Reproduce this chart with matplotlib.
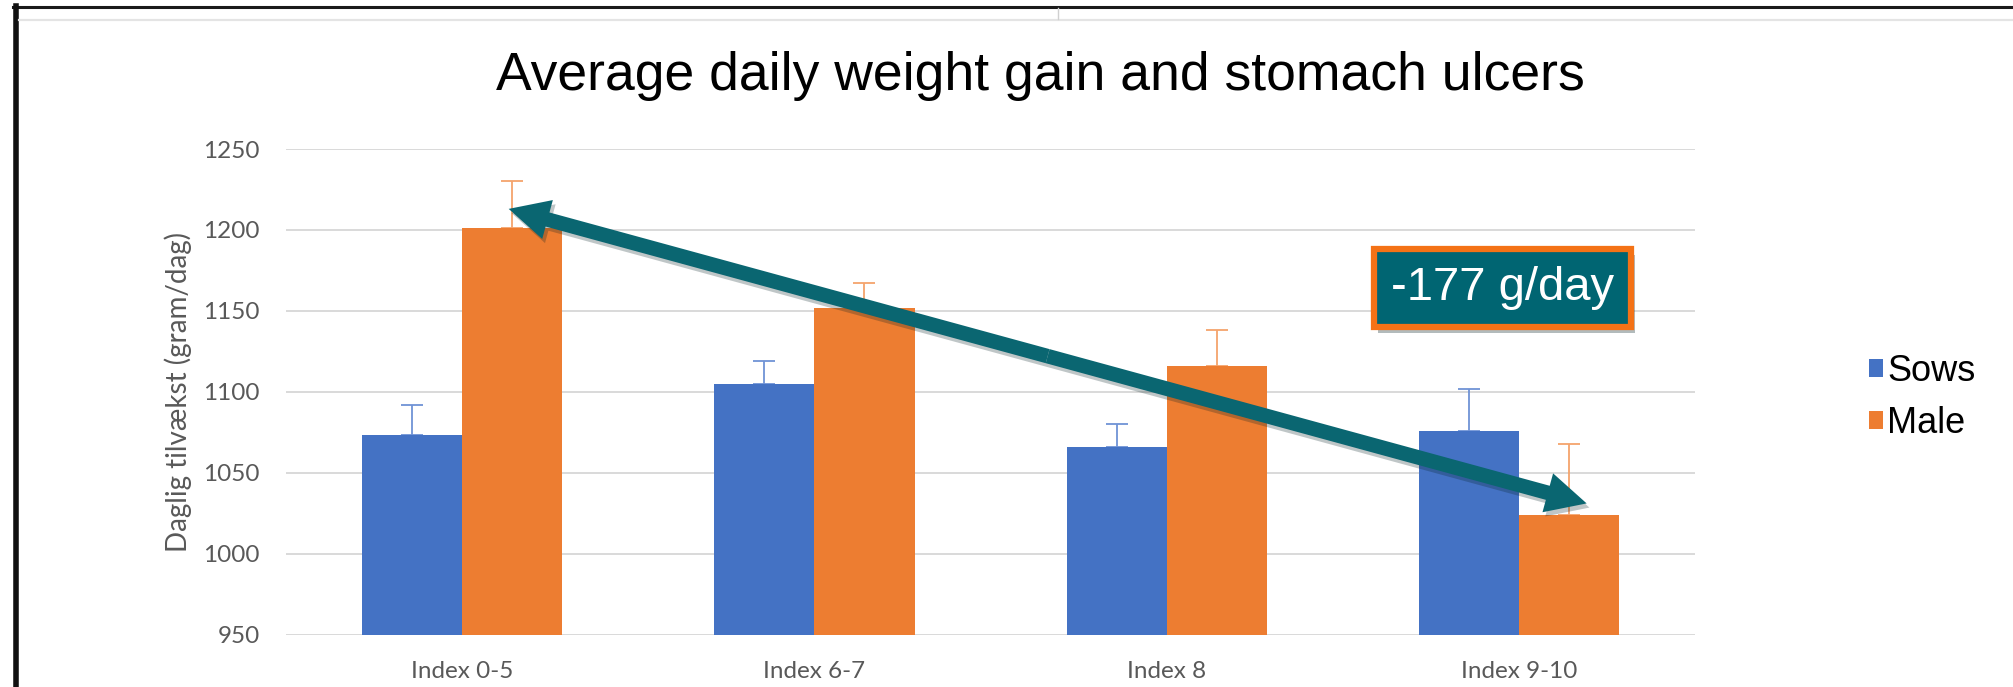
import numpy as np
import matplotlib
matplotlib.use("Agg")
import matplotlib.pyplot as plt
from matplotlib.lines import Line2D
import matplotlib.patheffects as pe

# data
categories = ["Index 0-5", "Index 6-7", "Index 8", "Index 9-10"]
sows = [1073, 1105, 1066, 1076]
sows_err = [19, 14, 14, 26]
male = [1201, 1152, 1116, 1024]
male_err = [29, 15, 22, 44]
series_names = ["Sows", "Male"]
yticks = [950, 1000, 1050, 1100, 1150, 1200, 1250]
title = "Average daily weight gain and stomach ulcers"
ylabel = "Daglig tilvækst (gram/dag)"
callout = "-177 g/day"

blue = "#4472C4"
orange = "#ED7D31"
teal = "#0a6671"

fig = plt.figure(figsize=(20.13, 6.87), dpi=100)
ax = fig.add_axes([0.1421, 0.0764, 0.7, 0.7067])

x = np.arange(len(categories))
w = 0.284
ax.bar(x - w / 2, sows, w, color=blue, zorder=3, label=series_names[0])
ax.bar(x + w / 2, male, w, color=orange, zorder=3, label=series_names[1])
ax.errorbar(x - w / 2, sows, yerr=[np.zeros(4), sows_err], fmt="none",
            ecolor="#6f93d6", elinewidth=1.3, capsize=8, capthick=1.3, zorder=2)
ax.errorbar(x + w / 2, male, yerr=[np.zeros(4), male_err], fmt="none",
            ecolor="#f4a46c", elinewidth=1.3, capsize=8, capthick=1.3, zorder=2)

ax.set_xlim(-0.5, 3.5)
ax.set_ylim(950, 1250)
ax.set_yticks(yticks)
ax.set_xticks(x)
ax.set_xticklabels(categories)
ax.grid(axis="y", color="#d9d9d9", lw=1.4, zorder=0)
ax.set_axisbelow(True)
for s in ax.spines.values():
    s.set_visible(False)
ax.tick_params(length=0, labelsize=17.5, labelcolor="#595959", pad=19)
ax.tick_params(axis="y", pad=19)
for lab in ax.get_xticklabels() + ax.get_yticklabels():
    lab.set_family("Lato")
ax.set_ylabel(ylabel, family="Lato", fontsize=20, color="#595959", labelpad=8)

# double arrow between first and last male bar
start = (x[0] + w / 2 - 0.01, male[0] + 12)
end = (x[3] + w / 2 + 0.05, male[3] + 7)
mid = ((start[0] + end[0]) / 2, (start[1] + end[1]) / 2)
style = "simple,head_length=2.9,head_width=2.9,tail_width=1.05"
for tip in (start, end):
    a = ax.annotate("", xy=tip, xytext=mid, zorder=5,
                    arrowprops=dict(arrowstyle=style, mutation_scale=10,
                                    color=teal, lw=0, shrinkA=0, shrinkB=0))
    a.arrow_patch.set_path_effects([pe.SimplePatchShadow(offset=(2, -3), alpha=0.25),
                                    pe.Normal()])

t = ax.text(2.953, 1164, callout, ha="center", va="center", fontsize=34,
            family="Liberation Sans", color="white", zorder=6,
            bbox=dict(boxstyle="square,pad=0.36", fc="#006572", ec="#f47216", lw=4.5))
t.get_bbox_patch().set_path_effects([pe.SimplePatchShadow(offset=(3, -4), alpha=0.3),
                                     pe.Normal()])

fig.text(0.5166, 0.889, title, ha="center", va="center", fontsize=38.5,
         family="Liberation Sans", color="black")

leg = ax.legend(loc="center left", bbox_to_anchor=(0.9285, 0.421),
                bbox_transform=fig.transFigure, frameon=False,
                prop=dict(family="Liberation Sans", size=26),
                handlelength=0.39, handleheight=0.39, handletextpad=0.12,
                labelspacing=0.47, borderpad=0, borderaxespad=0)

# screenshot frame lines
H = 687.0
W = 2013.0
fig.add_artist(Line2D([13 / W, 1], [1 - 7 / H, 1 - 7 / H], color="#1a1a1a", lw=2.2))
fig.add_artist(Line2D([15.5 / W, 15.5 / W], [0, 1 - 6 / H], color="#111111", lw=4))
fig.add_artist(Line2D([19 / W, 1], [1 - 20 / H, 1 - 20 / H], color="#e4e4e4", lw=1.6))
fig.add_artist(Line2D([1058 / W, 1058 / W], [1 - 8 / H, 1 - 19 / H], color="#d0d0d0", lw=1))

fig.savefig("out.png", dpi=100)
